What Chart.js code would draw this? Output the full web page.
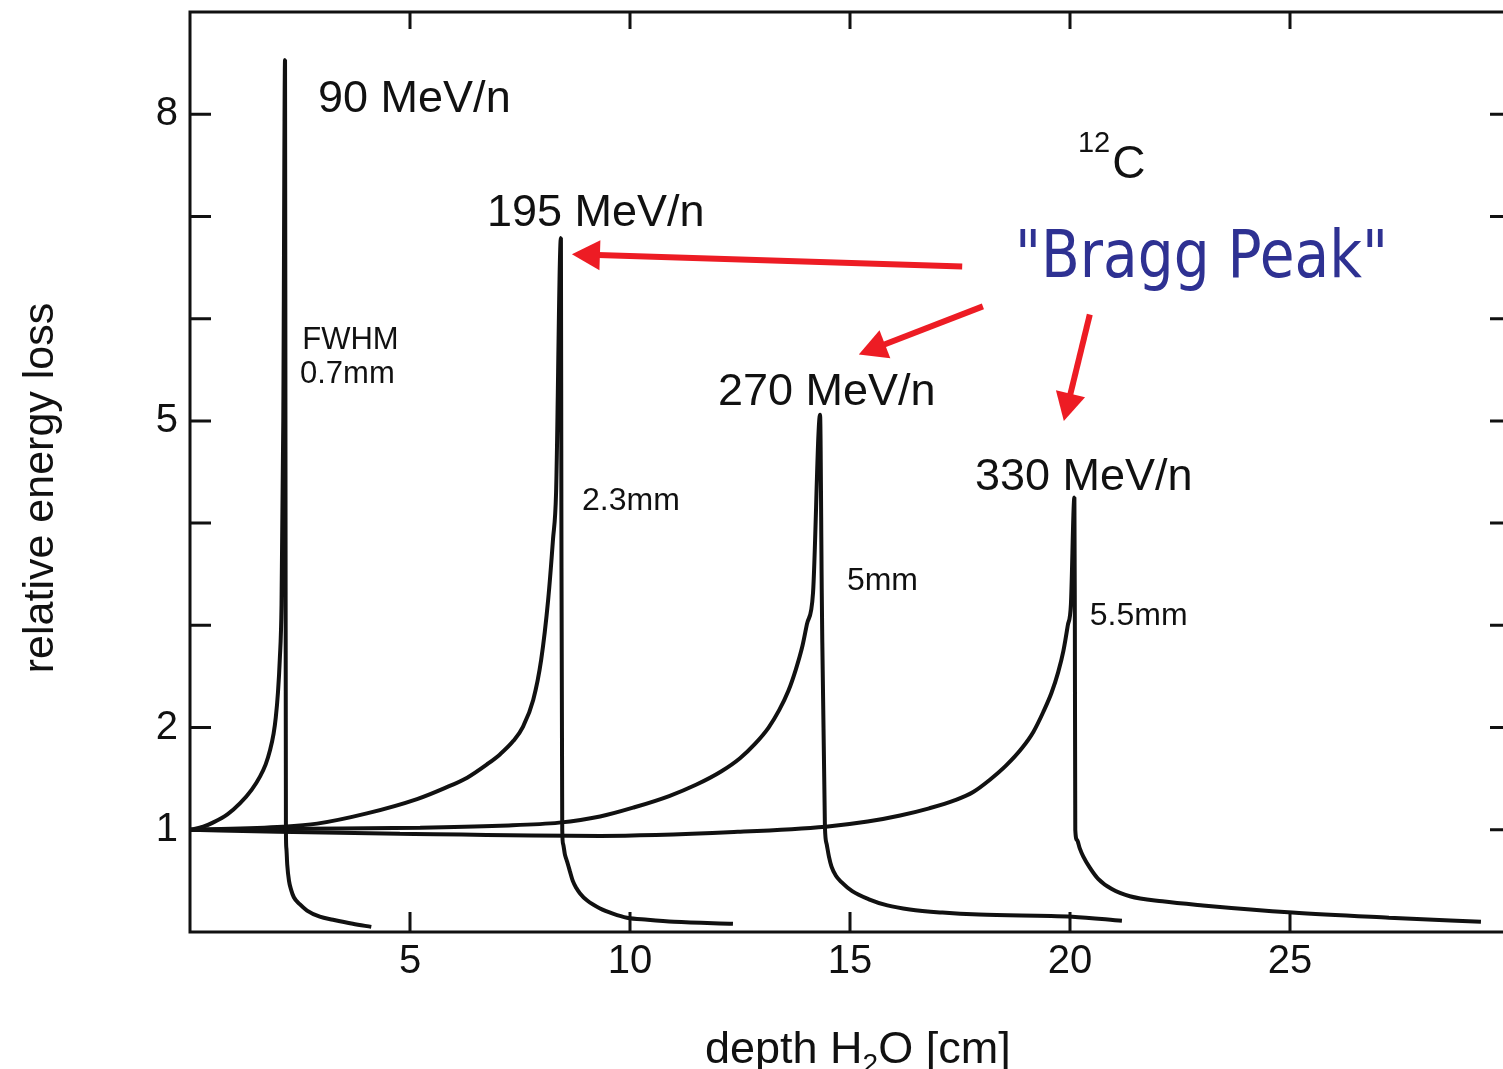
<!DOCTYPE html>
<html>
<head>
<meta charset="utf-8">
<title>Bragg curves of 12C in water</title>
<script src="https://cdn.jsdelivr.net/npm/chart.js@4.4.1/dist/chart.umd.min.js"></script>
<style>
  html, body { margin: 0; padding: 0; background: #fff; overflow: hidden; }
  #wrap { position: relative; width: 1510px; height: 1069px; }
  #bragg { display: block; width: 1510px; height: 1069px; }
</style>
</head>
<body>
<div id="wrap"><canvas id="bragg" width="1510" height="1069"></canvas></div>
<script>
// depth in water [cm] / relative energy loss, one pair per beam energy
const depth90 = [0.00, 0.30, 0.52, 0.85, 1.14, 1.40, 1.59, 1.72, 1.82, 1.90, 1.95, 2.00, 2.04, 2.08, 2.12, 2.16, 2.17, 2.18, 2.19, 2.21, 2.25, 2.30, 2.36, 2.50, 2.66, 2.95, 3.25, 3.70, 4.12];
const loss90  = [1.00, 1.03, 1.07, 1.15, 1.26, 1.39, 1.52, 1.64, 1.78, 1.94, 2.10, 2.35, 2.66, 3.20, 5.00, 8.53, 4.70, 1.00, 0.82, 0.66, 0.50, 0.41, 0.34, 0.27, 0.21, 0.15, 0.12, 0.08, 0.05];

const depth195 = [0.00, 2.11, 2.89, 4.02, 5.16, 5.80, 6.30, 6.75, 7.05, 7.35, 7.57, 7.80, 7.98, 8.14, 8.25, 8.32, 8.43, 8.44, 8.46, 8.48, 8.52, 8.57, 8.63, 8.70, 8.78, 8.86, 9.02, 9.32, 9.61, 9.93, 10.40, 11.00, 12.34];
const loss195  = [1.00, 1.03, 1.06, 1.16, 1.30, 1.41, 1.51, 1.64, 1.74, 1.87, 2.01, 2.27, 2.66, 3.25, 3.84, 4.30, 6.79, 4.20, 1.00, 0.86, 0.76, 0.69, 0.60, 0.50, 0.43, 0.38, 0.31, 0.23, 0.18, 0.14, 0.12, 0.10, 0.08];

const depth270 = [0.00, 2.50, 5.23, 7.05, 8.39, 9.32, 10.10, 10.89, 11.50, 12.07, 12.50, 12.84, 13.15, 13.39, 13.60, 13.77, 13.92, 14.02, 14.16, 14.32, 14.36, 14.43, 14.47, 14.52, 14.58, 14.68, 14.80, 15.05, 15.43, 15.85, 16.36, 17.10, 17.93, 20.05, 21.18];
const loss270  = [1.00, 1.01, 1.02, 1.04, 1.07, 1.13, 1.22, 1.33, 1.44, 1.57, 1.70, 1.84, 2.00, 2.17, 2.36, 2.57, 2.80, 3.01, 3.32, 5.06, 3.25, 1.03, 0.86, 0.74, 0.64, 0.55, 0.49, 0.40, 0.32, 0.26, 0.22, 0.19, 0.17, 0.15, 0.11];

const depth330 = [0.00, 2.00, 4.77, 9.32, 12.45, 14.45, 15.40, 16.14, 16.80, 17.39, 17.80, 18.18, 18.55, 18.91, 19.17, 19.39, 19.58, 19.73, 19.85, 19.95, 20.02, 20.10, 20.11, 20.12, 20.16, 20.22, 20.30, 20.45, 20.64, 20.95, 21.36, 22.10, 23.02, 25.05, 27.25, 29.34];
const loss330  = [1.00, 0.98, 0.96, 0.94, 0.98, 1.03, 1.08, 1.14, 1.21, 1.29, 1.37, 1.49, 1.63, 1.80, 1.96, 2.15, 2.34, 2.54, 2.75, 3.00, 3.20, 4.25, 3.05, 1.00, 0.90, 0.82, 0.74, 0.63, 0.52, 0.42, 0.35, 0.30, 0.26, 0.19, 0.14, 0.10];

const energyLabels = ['90 MeV/n', '195 MeV/n', '270 MeV/n', '330 MeV/n'];
const widthLabels = ['FWHM', '0.7mm', '2.3mm', '5mm', '5.5mm'];

const xTickValues = [5, 10, 15, 20, 25];
const yTickValues = [1, 2, 3, 4, 5, 6, 7, 8];
const yLabelValues = [1, 2, 5, 8];

(function() {
  const ink = '#111111';
  const arrowRed = '#ed1c24';
  const braggBlue = '#2e3192';
  const sansFamily = '"Liberation Sans", Arial, Helvetica, sans-serif';

  // text placed in data units: left edge / baseline
  const notes = [
    { text: energyLabels[0], x: 2.91, y: 8.02, size: 45 },
    { text: energyLabels[1], x: 6.75, y: 6.91, size: 45 },
    { text: energyLabels[2], x: 12.0, y: 5.16, size: 45 },
    { text: energyLabels[3], x: 17.84, y: 4.32, size: 45 },
    { text: widthLabels[0], x: 2.55, y: 5.70, size: 31 },
    { text: widthLabels[1], x: 2.50, y: 5.37, size: 31 },
    { text: widthLabels[2], x: 8.91, y: 4.13, size: 32 },
    { text: widthLabels[3], x: 14.93, y: 3.35, size: 32 },
    { text: widthLabels[4], x: 20.45, y: 3.00, size: 32 }
  ];

  // tail -> tip, data units
  const arrows = [
    { from: [17.55, 6.51], to: [8.68, 6.63] },
    { from: [18.02, 6.12], to: [15.20, 5.65] },
    { from: [20.45, 6.04], to: [19.86, 5.00] }
  ];

  function zip(xs, ys) {
    return xs.map((x, i) => ({ x: x, y: ys[i] }));
  }

  function drawArrow(ctx, x0, y0, x1, y1) {
    const ang = Math.atan2(y1 - y0, x1 - x0);
    const headLen = 28, headHalf = 15;
    const bx = x1 - Math.cos(ang) * headLen;
    const by = y1 - Math.sin(ang) * headLen;
    ctx.beginPath();
    ctx.moveTo(x0, y0);
    ctx.lineTo(bx + Math.cos(ang) * 2, by + Math.sin(ang) * 2);
    ctx.stroke();
    ctx.beginPath();
    ctx.moveTo(x1, y1);
    ctx.lineTo(bx - Math.sin(ang) * headHalf, by + Math.cos(ang) * headHalf);
    ctx.lineTo(bx + Math.sin(ang) * headHalf, by - Math.cos(ang) * headHalf);
    ctx.closePath();
    ctx.fill();
  }

  // box, inward tick marks and axis titles
  const framePlugin = {
    id: 'frame',
    afterDatasetsDraw(chart) {
      const { ctx, chartArea: a, scales: { x, y } } = chart;
      ctx.save();
      ctx.strokeStyle = ink;
      ctx.lineWidth = 3;
      ctx.beginPath();
      ctx.moveTo(a.right, a.top);
      ctx.lineTo(a.left, a.top);
      ctx.lineTo(a.left, a.bottom);
      ctx.lineTo(a.right, a.bottom);
      xTickValues.forEach(v => {
        const px = x.getPixelForValue(v);
        ctx.moveTo(px, a.bottom);
        ctx.lineTo(px, a.bottom - 20);
        ctx.moveTo(px, a.top);
        ctx.lineTo(px, a.top + 17);
      });
      yTickValues.forEach(v => {
        const py = y.getPixelForValue(v);
        ctx.moveTo(a.left, py);
        ctx.lineTo(a.left + 21, py);
        ctx.moveTo(a.right, py);
        ctx.lineTo(a.right - 20, py);
      });
      ctx.stroke();

      ctx.fillStyle = ink;
      ctx.textBaseline = 'alphabetic';

      // y title, rotated
      ctx.save();
      ctx.translate(a.left - 137, (a.top + a.bottom) / 2 + 16);
      ctx.rotate(-Math.PI / 2);
      ctx.font = '43px ' + sansFamily;
      ctx.textAlign = 'center';
      ctx.fillText('relative energy loss', 0, 0);
      ctx.restore();

      // x title with subscript
      ctx.textAlign = 'left';
      let tx = 705;
      const ty = a.bottom + 131;
      ctx.font = '45px ' + sansFamily;
      ctx.fillText('depth H', tx, ty);
      tx += ctx.measureText('depth H').width;
      ctx.font = '28px ' + sansFamily;
      ctx.fillText('2', tx, ty + 10);
      tx += ctx.measureText('2').width;
      ctx.font = '45px ' + sansFamily;
      ctx.fillText('O [cm]', tx, ty);
      ctx.restore();
    }
  };

  const notesPlugin = {
    id: 'notes',
    afterDatasetsDraw(chart) {
      const { ctx, scales: { x, y } } = chart;
      ctx.save();
      ctx.fillStyle = ink;
      ctx.textAlign = 'left';
      ctx.textBaseline = 'alphabetic';
      notes.forEach(n => {
        ctx.font = n.size + 'px ' + sansFamily;
        ctx.fillText(n.text, x.getPixelForValue(n.x), y.getPixelForValue(n.y));
      });

      // isotope symbol
      const ix = x.getPixelForValue(20.18);
      ctx.font = '29px ' + sansFamily;
      ctx.fillText('12', ix, y.getPixelForValue(7.63));
      const sw = ctx.measureText('12').width;
      ctx.font = '46px ' + sansFamily;
      ctx.fillText('C', ix + sw + 2, y.getPixelForValue(7.38));

      // "Bragg Peak" callout
      const label = '"Bragg Peak"';
      ctx.font = '66px "Comic Sans MS", "DejaVu Sans", sans-serif';
      const w = ctx.measureText(label).width;
      ctx.save();
      ctx.translate(x.getPixelForValue(18.75), y.getPixelForValue(6.41));
      ctx.scale(373 / w, 1);
      ctx.fillStyle = braggBlue;
      ctx.fillText(label, 0, 0);
      ctx.restore();

      ctx.strokeStyle = arrowRed;
      ctx.fillStyle = arrowRed;
      ctx.lineWidth = 6;
      ctx.lineCap = 'butt';
      arrows.forEach(ar => {
        drawArrow(ctx,
          x.getPixelForValue(ar.from[0]), y.getPixelForValue(ar.from[1]),
          x.getPixelForValue(ar.to[0]), y.getPixelForValue(ar.to[1]));
      });
      ctx.restore();
    }
  };

  const series = [
    zip(depth90, loss90),
    zip(depth195, loss195),
    zip(depth270, loss270),
    zip(depth330, loss330)
  ];

  const tickFont = { family: sansFamily, size: 40 };

  new Chart(document.getElementById('bragg'), {
    type: 'line',
    data: {
      datasets: series.map((pts, i) => ({
        label: energyLabels[i],
        data: pts,
        borderColor: ink,
        borderWidth: 4,
        borderJoinStyle: 'bevel',
        cubicInterpolationMode: 'monotone',
        pointRadius: 0,
        fill: false
      }))
    },
    options: {
      responsive: false,
      animation: false,
      devicePixelRatio: 1,
      layout: { padding: { top: 12, right: 0, bottom: 0, left: 0 } },
      plugins: {
        legend: { display: false },
        tooltip: { enabled: false }
      },
      scales: {
        x: {
          type: 'linear',
          min: 0,
          max: 30,
          grid: { display: false, drawTicks: false },
          border: { display: false },
          ticks: {
            stepSize: 5,
            padding: 6,
            color: ink,
            font: tickFont,
            maxRotation: 0,
            callback: v => xTickValues.includes(v) ? String(v) : ''
          },
          afterFit: scale => {
            scale.height = 137;
            scale.paddingLeft = 0;
            scale.paddingRight = 0;
          }
        },
        y: {
          min: 0,
          max: 9,
          grid: { display: false, drawTicks: false },
          border: { display: false },
          ticks: {
            stepSize: 1,
            padding: 12,
            color: ink,
            font: tickFont,
            callback: v => yLabelValues.includes(v) ? String(v) : ''
          },
          afterFit: scale => {
            scale.width = 190;
            scale.paddingTop = 0;
            scale.paddingBottom = 0;
          }
        }
      }
    },
    plugins: [framePlugin, notesPlugin]
  });
})();
</script>
</body>
</html>
